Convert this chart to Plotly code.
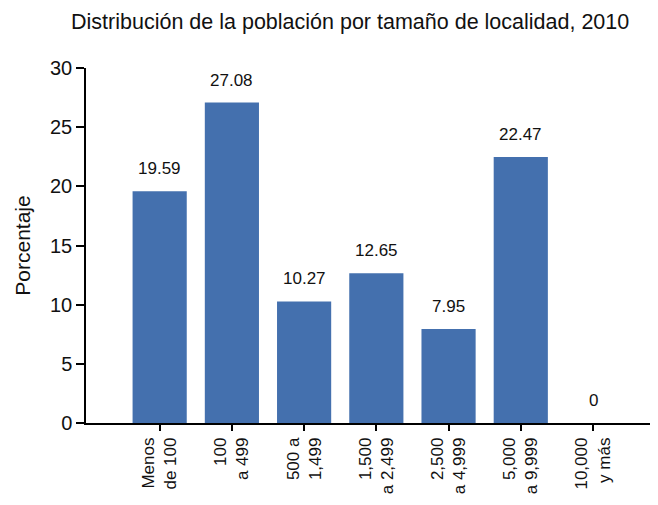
import plotly.graph_objects as go

categories = ["Menos<br>de 100", "100<br>a 499", "500 a<br>1,499", "1,500<br>a 2,499",
              "2,500<br>a 4,999", "5,000<br>a 9,999", "10,000<br>y más"]
values = [19.59, 27.08, 10.27, 12.65, 7.95, 22.47, 0]
value_labels = ["19.59", "27.08", "10.27", "12.65", "7.95", "22.47", "0"]
y_ticks = [0, 5, 10, 15, 20, 25, 30]

FONT = "Liberation Sans, Arial, sans-serif"
xs = list(range(len(categories)))

fig = go.Figure(go.Bar(
    x=xs,
    y=values,
    width=0.75,
    marker=dict(color="#4470ae", line=dict(width=0)),
))

for xi, v, lab in zip(xs, values, value_labels):
    fig.add_annotation(x=xi, y=v, text=lab, showarrow=False,
                       xanchor="center", yanchor="bottom", yshift=11,
                       font=dict(size=17, family=FONT, color="#111111"))

fig.update_layout(
    width=650, height=497,
    margin=dict(l=78, r=0, t=60, b=82),
    paper_bgcolor="white", plot_bgcolor="white",
    font=dict(family=FONT, color="#111111"),
    title=dict(text="Distribución de la población por tamaño de localidad, 2010",
               x=0.097, xanchor="left", y=0.972, yanchor="middle",
               font=dict(size=21.5, family=FONT, color="#111111")),
    showlegend=False,
)
fig.update_xaxes(
    range=[-1.02, 6.9], automargin=False,
    tickmode="array", tickvals=xs, ticktext=categories,
    tickangle=-90, tickfont=dict(size=17, family=FONT),
    showline=True, linecolor="black", linewidth=1.5,
    ticks="outside", ticklen=6, tickcolor="black", tickwidth=1.5,
    showgrid=False, zeroline=False,
)
fig.update_yaxes(
    range=[0, 30], automargin=False,
    tickmode="array", tickvals=y_ticks,
    tickfont=dict(size=20, family=FONT),
    showline=True, linecolor="black", linewidth=1.5,
    ticks="outside", ticklen=8, tickcolor="black", tickwidth=1.5,
    showgrid=False, zeroline=False,
    title=dict(text="Porcentaje", font=dict(size=21, family=FONT), standoff=14),
)

fig.write_html("out.html")
